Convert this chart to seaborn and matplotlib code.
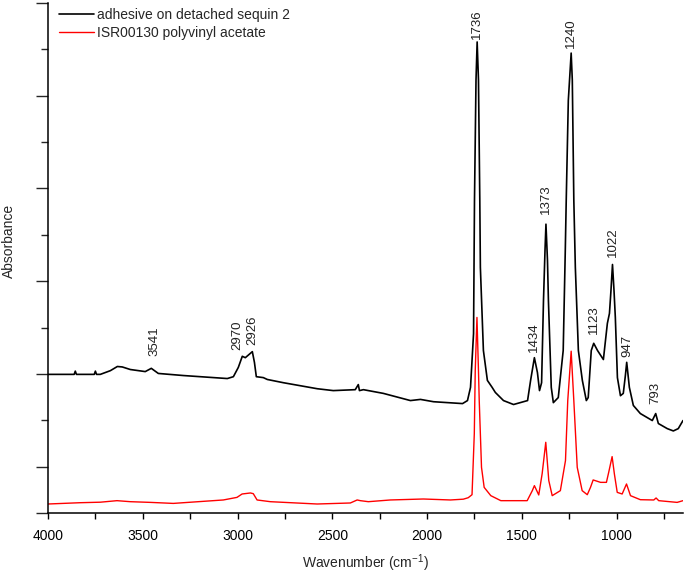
import matplotlib
matplotlib.use("Agg")
import matplotlib.pyplot as plt
import seaborn as sns
import pandas as pd
from matplotlib.ticker import MultipleLocator, FixedLocator

# spectrum 1: adhesive on detached sequin 2 (black)
sample_wn = [4000, 3862, 3856, 3850, 3756, 3750, 3744, 3724, 3671, 3634, 3608, 3566,
             3487, 3455, 3418, 3286, 3054, 3022, 2996, 2975, 2959, 2922, 2911, 2901,
             2864, 2843, 2758, 2579, 2495, 2379, 2363, 2357, 2336, 2231, 2088, 2035,
             1966, 1813, 1787, 1771, 1755, 1750, 1742, 1736, 1729, 1722, 1719, 1703,
             1682, 1657, 1640, 1597, 1544, 1470, 1454, 1434, 1418, 1407, 1396, 1386,
             1378, 1373, 1365, 1360, 1345, 1334, 1308, 1282, 1271, 1266, 1255, 1240,
             1234, 1226, 1218, 1202, 1181, 1160, 1150, 1134, 1121, 1101, 1070, 1059,
             1049, 1038, 1030, 1022, 1014, 1007, 996, 980, 965, 954, 947, 933,
             912, 875, 812, 794, 780, 733, 701, 675, 650]
sample_abs = [0.199, 0.199, 0.206, 0.199, 0.199, 0.206, 0.199, 0.199, 0.207, 0.216, 0.215, 0.2095,
              0.205, 0.212, 0.201, 0.1965, 0.190, 0.194, 0.214, 0.238, 0.235, 0.248, 0.225, 0.194,
              0.192, 0.188, 0.181, 0.168, 0.164, 0.166, 0.177, 0.164, 0.166, 0.158, 0.1425, 0.145,
              0.140, 0.136, 0.1425, 0.171, 0.287, 0.575, 0.834, 0.916, 0.834, 0.575, 0.430, 0.2505,
              0.186, 0.171, 0.160, 0.1425, 0.134, 0.1425, 0.186, 0.235, 0.203, 0.164, 0.181, 0.3585,
              0.4665, 0.523, 0.445, 0.3585, 0.171, 0.138, 0.149, 0.2505, 0.4665, 0.575, 0.790, 0.892,
              0.834, 0.575, 0.430, 0.2505, 0.186, 0.1425, 0.149, 0.2505, 0.266, 0.2505, 0.231, 0.272,
              0.309, 0.3305, 0.380, 0.436, 0.380, 0.322, 0.192, 0.153, 0.158, 0.1965, 0.225, 0.171,
              0.132, 0.1145, 0.0994, 0.1145, 0.093, 0.082, 0.077, 0.082, 0.0994]

# spectrum 2: ISR00130 polyvinyl acetate reference (red)
ref_wn = [4000, 3830, 3724, 3636, 3566, 3460, 3339, 3075, 3003, 2976, 2932, 2917,
          2897, 2827, 2580, 2405, 2369, 2352, 2310, 2194, 2020, 1877, 1809, 1783,
          1763, 1751, 1746, 1737, 1729, 1725, 1713, 1699, 1664, 1611, 1472, 1445,
          1434, 1411, 1393, 1374, 1358, 1340, 1297, 1270, 1258, 1240, 1226, 1208,
          1182, 1155, 1138, 1124, 1085, 1054, 1042, 1024, 1012, 997, 971, 948,
          927, 875, 804, 792, 778, 681, 650]
ref_abs = [-0.0806, -0.0778, -0.0767, -0.0734, -0.0756, -0.0771, -0.0793, -0.0719, -0.0663, -0.059, -0.0568, -0.0583,
           -0.0719, -0.0756, -0.0806, -0.0784, -0.0719, -0.0734, -0.0756, -0.0719, -0.0698, -0.0719, -0.0702, -0.067,
           -0.0605, 0.0713, 0.2073, 0.3218, 0.2073, 0.1425, -0.0015, -0.0447, -0.0626, -0.0734, -0.0734, -0.0518,
           -0.041, -0.0611, -0.0151, 0.0525, -0.0302, -0.0626, -0.0518, 0.013, 0.1425, 0.249, 0.1425, -0.0015,
           -0.0518, -0.0605, -0.0447, -0.0287, -0.0339, -0.0339, -0.0123, 0.0216, -0.0158, -0.0555, -0.059, -0.0374,
           -0.0626, -0.0713, -0.0719, -0.0676, -0.0734, -0.0771, -0.0734]

# peak labels: text, x position, base of label
peak_text = ["3541", "2970", "2926", "1736", "1434", "1373", "1240", "1123", "1022", "947", "793"]
peak_x = [3439, 3001, 2922, 1736, 1434, 1373, 1240, 1121, 1022, 945, 794]
peak_y = [0.238, 0.251, 0.262, 0.922, 0.247, 0.545, 0.903, 0.286, 0.453, 0.237, 0.136]

sns.set_style("ticks")
plt.rcParams['font.family'] = ['Liberation Sans', 'DejaVu Sans']
plt.rcParams['mathtext.fontset'] = 'custom'
plt.rcParams['mathtext.rm'] = 'Liberation Sans'
plt.rcParams['mathtext.default'] = 'regular'

sample = pd.DataFrame({'wn': sample_wn, 'abs': sample_abs})
ref = pd.DataFrame({'wn': ref_wn, 'abs': ref_abs})

fig = plt.figure(figsize=(6.85, 5.73), dpi=100)
ax = fig.add_axes([48 / 685, 60 / 573, 635 / 685, 510 / 573])

sns.lineplot(x='wn', y='abs', data=sample, ax=ax, color='black', lw=1.2,
             estimator=None, label='adhesive on detached sequin 2')
sns.lineplot(x='wn', y='abs', data=ref, ax=ax, color='#ff0000', lw=1.0,
             estimator=None, label='ISR00130 polyvinyl acetate')

for t, x, y in zip(peak_text, peak_x, peak_y):
    ax.text(x, y, t, rotation=90, ha='center', va='bottom', fontsize=9.5, color='#222222')

ax.set_xlim(4000, 650)
ax.set_ylim(-0.1, 1.0)
ax.xaxis.set_major_locator(MultipleLocator(500))
ax.xaxis.set_minor_locator(MultipleLocator(250))
ax.yaxis.set_major_locator(FixedLocator([-0.1, 0, 0.2, 0.4, 0.6, 0.8, 1.0]))
ax.yaxis.set_minor_locator(FixedLocator([0.1, 0.3, 0.5, 0.7, 0.9]))
ax.set_yticklabels([])
ax.tick_params(axis='x', which='both', direction='out', length=4.5, width=1.0, labelsize=10, pad=7, colors='black')
ax.tick_params(axis='y', which='major', direction='out', length=8.5, width=1.0)
ax.tick_params(axis='y', which='minor', direction='out', length=5, width=1.0)

sns.despine(ax=ax)
for side in ['left', 'bottom']:
    ax.spines[side].set_linewidth(1.1)
    ax.spines[side].set_color('black')

ax.set_xlabel('Wavenumber (cm$^{-1}$)', fontsize=10, labelpad=7)
ax.set_ylabel('Absorbance', fontsize=10)
ax.yaxis.set_label_coords(-0.051, 0.533)

ax.legend(loc='upper left', bbox_to_anchor=(11 / 635, 0.991), frameon=False,
          fontsize=10, handlelength=2.5, handletextpad=0.25, borderaxespad=0,
          borderpad=0, labelspacing=0.3)

fig.savefig('out.png', dpi=100)
